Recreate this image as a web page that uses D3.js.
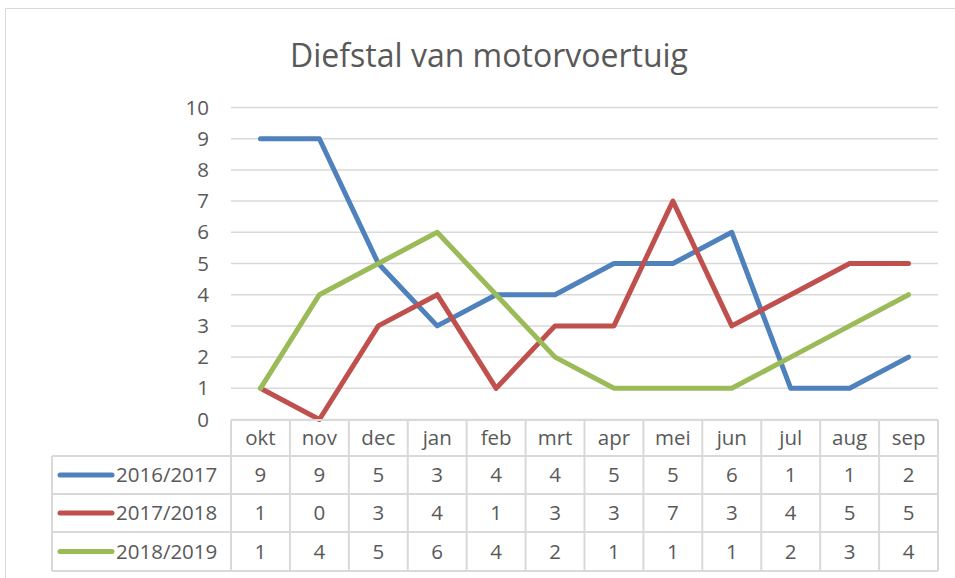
<!DOCTYPE html>
<html>
<head>
<meta charset="utf-8">
<script src="https://cdn.jsdelivr.net/npm/d3@7"></script>
<style>
  body { margin: 0; background: #fff; }
  text { font-family: "Open Sans", sans-serif; fill: #595959; }
</style>
</head>
<body>
<div id="chart"></div>
<script>
var categories = ["okt", "nov", "dec", "jan", "feb", "mrt", "apr", "mei", "jun", "jul", "aug", "sep"]
var seriesNames = ["2016/2017", "2017/2018", "2018/2019"]
var values2016 = [9, 9, 5, 3, 4, 4, 5, 5, 6, 1, 1, 2]
var values2017 = [1, 0, 3, 4, 1, 3, 3, 7, 3, 4, 5, 5]
var values2018 = [1, 4, 5, 6, 4, 2, 1, 1, 1, 2, 3, 4]
var yTicks = [0, 1, 2, 3, 4, 5, 6, 7, 8, 9, 10]
var colors = ["#4F81BD", "#C0504D", "#9BBB59"]

var series = [values2016, values2017, values2018].map(function (v, i) {
  return { name: seriesNames[i], values: v, color: colors[i] }
})

var width = 955, height = 578
var plotLeft = 231, plotRight = 938, plotTop = 107.5, plotBottom = 419.5
var legendLeft = 52
var rowEdges = [420, 456, 494, 532, 571]
var labelSize = "20.5px"

var svg = d3.select("#chart").append("svg")
    .attr("width", width)
    .attr("height", height)

// chart border (only top and left are in view)
svg.append("path")
    .attr("d", "M5.5," + height + "V8.5H" + width)
    .attr("fill", "none")
    .attr("stroke", "#d9d9d9")
    .attr("stroke-width", 1)

svg.append("text")
    .attr("x", 489).attr("y", 67)
    .attr("text-anchor", "middle")
    .style("font-size", "32px")
    .text("Diefstal van motorvoertuig")

var x = d3.scaleBand().domain(categories).range([plotLeft, plotRight])
var y = d3.scaleLinear().domain([0, 10]).range([plotBottom, plotTop])

// gridlines
svg.append("g")
  .selectAll("line")
  .data(yTicks)
  .enter().append("line")
    .attr("x1", plotLeft).attr("x2", plotRight)
    .attr("y1", function (d) { return y(d) })
    .attr("y2", function (d) { return y(d) })
    .attr("stroke", "#d9d9d9")
    .attr("stroke-width", 1.5)

var yAxis = svg.append("g")
    .attr("transform", "translate(" + (plotLeft - 22) + ",0)")
    .call(d3.axisLeft(y).tickValues(yTicks).tickSize(0).tickPadding(0))
yAxis.select(".domain").remove()
yAxis.selectAll("text")
    .style("font-size", labelSize)
    .style("font-family", "'Open Sans', sans-serif")
    .attr("fill", "#595959")

// lines
var line = d3.line()
    .x(function (d, i) { return x(categories[i]) + x.bandwidth() / 2 })
    .y(function (d) { return y(d) })

svg.append("g")
  .selectAll("path")
  .data(series)
  .enter().append("path")
    .attr("d", function (d) { return line(d.values) })
    .attr("fill", "none")
    .attr("stroke", function (d) { return d.color })
    .attr("stroke-width", 5)
    .attr("stroke-linejoin", "round")
    .attr("stroke-linecap", "round")

// data table
var table = svg.append("g")
var gridColor = "#d9d9d9"

// horizontal lines
table.append("line")
    .attr("x1", plotLeft).attr("x2", plotRight)
    .attr("y1", rowEdges[0]).attr("y2", rowEdges[0])
    .attr("stroke", gridColor).attr("stroke-width", 2)
rowEdges.slice(1).forEach(function (ry) {
  table.append("line")
      .attr("x1", legendLeft).attr("x2", plotRight)
      .attr("y1", ry).attr("y2", ry)
      .attr("stroke", gridColor).attr("stroke-width", 2)
})

// vertical lines
table.append("line")
    .attr("x1", legendLeft).attr("x2", legendLeft)
    .attr("y1", rowEdges[1]).attr("y2", rowEdges[4])
    .attr("stroke", gridColor).attr("stroke-width", 2)
categories.forEach(function (c) {
  table.append("line")
      .attr("x1", x(c)).attr("x2", x(c))
      .attr("y1", rowEdges[0]).attr("y2", rowEdges[4])
      .attr("stroke", gridColor).attr("stroke-width", 2)
})
table.append("line")
    .attr("x1", plotRight).attr("x2", plotRight)
    .attr("y1", rowEdges[0]).attr("y2", rowEdges[4])
    .attr("stroke", gridColor).attr("stroke-width", 2)

// header labels
table.selectAll(".cat")
  .data(categories)
  .enter().append("text")
    .attr("class", "cat")
    .attr("x", function (d) { return x(d) + x.bandwidth() / 2 })
    .attr("y", (rowEdges[0] + rowEdges[1]) / 2)
    .attr("dy", "0.35em")
    .attr("text-anchor", "middle")
    .style("font-size", labelSize)
    .text(function (d) { return d })

series.forEach(function (s, i) {
  var cy = (rowEdges[i + 1] + rowEdges[i + 2]) / 2
  table.append("line")
      .attr("x1", 60).attr("x2", 112)
      .attr("y1", cy).attr("y2", cy)
      .attr("stroke", s.color)
      .attr("stroke-width", 5)
      .attr("stroke-linecap", "round")
  table.append("text")
      .attr("x", 116).attr("y", cy)
      .attr("dy", "0.35em")
      .style("font-size", labelSize)
      .text(s.name)
  table.selectAll(".v" + i)
    .data(s.values)
    .enter().append("text")
      .attr("x", function (d, j) { return x(categories[j]) + x.bandwidth() / 2 })
      .attr("y", cy)
      .attr("dy", "0.35em")
      .attr("text-anchor", "middle")
      .style("font-size", labelSize)
      .text(function (d) { return d })
})
</script>
</body>
</html>
